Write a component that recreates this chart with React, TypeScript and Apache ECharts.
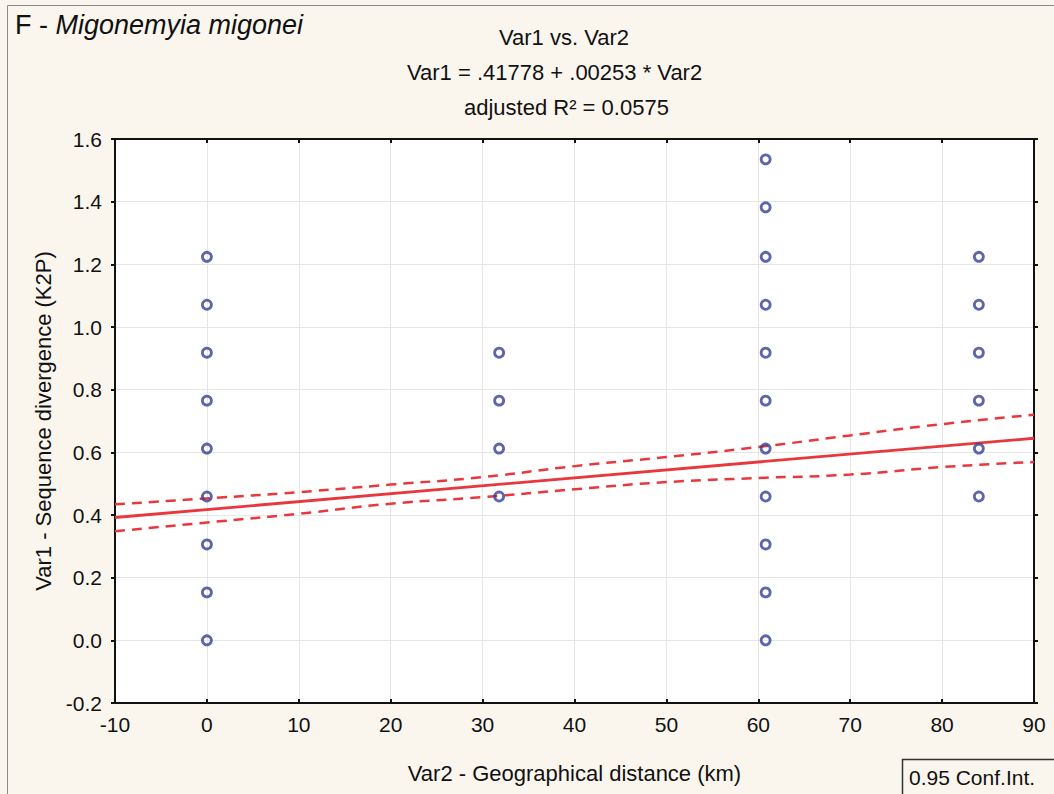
import React, { useEffect, useRef } from "react";
import * as echarts from "echarts";

// ---- Data ----
const xTickMin = -10;
const xTickMax = 90;
const yTickMin = -0.2;
const yTickMax = 1.6;

const siteDistances = [0, 31.8, 60.8, 84];
const divergenceAtSite0 = [0, 0.153, 0.306, 0.459, 0.612, 0.765, 0.918, 1.071, 1.224];
const divergenceAtSite1 = [0.459, 0.612, 0.765, 0.918];
const divergenceAtSite2 = [0, 0.153, 0.306, 0.459, 0.612, 0.765, 0.918, 1.071, 1.224, 1.382, 1.535];
const divergenceAtSite3 = [0.459, 0.612, 0.765, 0.918, 1.071, 1.224];

const fitX = [-10, 90];
const fitY = [0.392, 0.645];

const bandX = [-10, 0, 10, 20, 30, 40, 50, 60, 70, 80, 90];
const bandUpper = [0.434, 0.453, 0.473, 0.497, 0.521, 0.556, 0.585, 0.617, 0.654, 0.69, 0.72];
const bandLower = [0.348, 0.376, 0.404, 0.436, 0.457, 0.482, 0.505, 0.518, 0.529, 0.553, 0.569];

const panelTitle = "F - ";
const speciesName = "Migonemyia migonei";
const titleLine1 = "Var1 vs. Var2";
const titleLine2 = "Var1 = .41778 + .00253 * Var2";
const titleLine3 = "adjusted R² = 0.0575";
const xName = "Var2 - Geographical distance (km)";
const yName = "Var1 - Sequence divergence (K2P)";
const legendText = "0.95 Conf.Int.";

const FONT = "'Liberation Sans', Arial, sans-serif";
const BG = "#faf6ee";
const RED = "#e8383d";
const BLUE = "#343f98";

export default function App() {
  const ref = useRef<HTMLDivElement>(null);

  useEffect(() => {
    if (!ref.current) return;
    const chart = echarts.init(ref.current, null, { renderer: "svg" });

    const siteGroups = [divergenceAtSite0, divergenceAtSite1, divergenceAtSite2, divergenceAtSite3];
    const scatterData: number[][] = [];
    siteGroups.forEach((vals, i) => {
      vals.forEach((v) => scatterData.push([siteDistances[i], v]));
    });

    const fitData = fitX.map((x, i) => [x, fitY[i]]);
    const upperData = bandX.map((x, i) => [x, bandUpper[i]]);
    const lowerData = bandX.map((x, i) => [x, bandLower[i]]);

    const axisLine = { show: true, onZero: false, lineStyle: { color: "#111", width: 2 } };

    chart.setOption({
      animation: false,
      backgroundColor: BG,
      textStyle: { fontFamily: FONT },
      title: {
        left: 15,
        top: 11,
        padding: 0,
        text: `{n|${panelTitle}}{i|${speciesName}}`,
        textStyle: {
          fontWeight: "normal",
          rich: {
            n: { fontSize: 27, fontFamily: FONT, fontWeight: "normal", color: "#111" },
            i: { fontSize: 27, fontFamily: FONT, fontWeight: "normal", fontStyle: "italic", color: "#111" },
          },
        },
      },
      grid: {
        left: 115,
        top: 139,
        width: 919,
        height: 564,
        show: true,
        backgroundColor: "#ffffff",
        borderWidth: 0,
      },
      xAxis: [
        {
          type: "value",
          min: xTickMin,
          max: xTickMax,
          interval: 10,
          position: "bottom",
          axisLine,
          axisTick: { show: true, inside: true, length: 4, lineStyle: { color: "#111", width: 2 } },
          axisLabel: { fontSize: 21, color: "#111", margin: 11, fontFamily: FONT },
          splitLine: { show: true, lineStyle: { color: "#e6e6e6", width: 1 } },
          name: xName,
          nameLocation: "middle",
          nameGap: 59,
          nameTextStyle: { fontSize: 22, color: "#111", fontFamily: FONT },
        },
        {
          type: "value",
          min: xTickMin,
          max: xTickMax,
          interval: 10,
          position: "top",
          axisLine,
          axisTick: { show: true, inside: true, length: 4, lineStyle: { color: "#111", width: 2 } },
          axisLabel: { show: false },
          splitLine: { show: false },
        },
      ],
      yAxis: [
        {
          type: "value",
          min: yTickMin,
          max: yTickMax,
          interval: 0.2,
          position: "left",
          axisLine,
          axisTick: { show: true, inside: false, length: 4, lineStyle: { color: "#111", width: 2 } },
          axisLabel: {
            fontSize: 21,
            color: "#111",
            margin: 13,
            fontFamily: FONT,
            formatter: (v: number) => v.toFixed(1),
          },
          splitLine: { show: true, lineStyle: { color: "#e6e6e6", width: 1 } },
          name: yName,
          nameLocation: "middle",
          nameGap: 56,
          nameRotate: 90,
          nameTextStyle: { fontSize: 22, color: "#111", fontFamily: FONT },
        },
        {
          type: "value",
          min: yTickMin,
          max: yTickMax,
          interval: 0.2,
          position: "right",
          axisLine,
          axisTick: { show: true, inside: false, length: 4, lineStyle: { color: "#111", width: 2 } },
          axisLabel: { show: false },
          splitLine: { show: false },
        },
      ],
      series: [
        {
          type: "line",
          data: upperData,
          showSymbol: false,
          symbol: "none",
          smooth: true,
          lineStyle: { color: RED, width: 2.5, type: [10, 7] },
          z: 3,
        },
        {
          type: "line",
          data: lowerData,
          showSymbol: false,
          symbol: "none",
          smooth: true,
          lineStyle: { color: RED, width: 2.5, type: [10, 7] },
          z: 3,
        },
        {
          type: "line",
          data: fitData,
          showSymbol: false,
          symbol: "none",
          lineStyle: { color: RED, width: 2.8 },
          z: 4,
        },
        {
          type: "scatter",
          data: scatterData,
          symbol: "circle",
          symbolSize: 9,
          itemStyle: { color: "rgba(0,0,0,0)", borderColor: BLUE, borderWidth: 2.8 },
          z: 5,
        },
      ],
      graphic: [
        {
          type: "line",
          shape: { x1: 7.5, y1: 5.5, x2: 1054, y2: 5.5 },
          style: { stroke: "#8a8a8a", lineWidth: 1 },
        },
        {
          type: "line",
          shape: { x1: 7.5, y1: 5.5, x2: 7.5, y2: 794 },
          style: { stroke: "#8a8a8a", lineWidth: 1 },
        },
        {
          type: "text",
          left: 499,
          top: 26,
          style: { text: titleLine1, font: `22px ${FONT}`, fill: "#111" },
        },
        {
          type: "text",
          left: 407,
          top: 61,
          style: { text: titleLine2, font: `22px ${FONT}`, fill: "#111" },
        },
        {
          type: "text",
          left: 464,
          top: 96,
          style: { text: titleLine3, font: `22px ${FONT}`, fill: "#111" },
        },
        {
          type: "rect",
          shape: { x: 902.5, y: 759.5, width: 170, height: 50 },
          style: { fill: BG, stroke: "#333", lineWidth: 1.5 },
        },
        {
          type: "text",
          x: 909,
          y: 777,
          style: {
            text: legendText,
            font: `21px ${FONT}`,
            fill: "#111",
            verticalAlign: "middle",
          },
        },
      ],
    });

    return () => chart.dispose();
  }, []);

  return (
    <div
      ref={ref}
      style={{ position: "absolute", left: 0, top: 0, width: 1054, height: 794 }}
    />
  );
}
